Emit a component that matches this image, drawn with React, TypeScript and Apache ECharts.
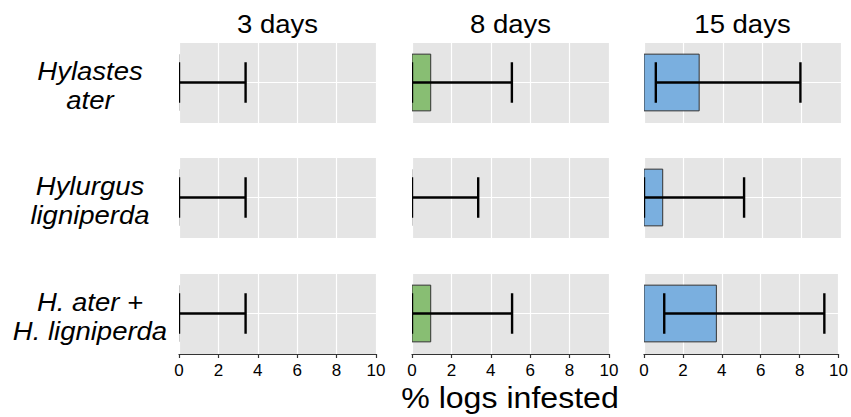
import React, { useEffect, useRef } from "react";
import * as echarts from "echarts";

// Facets: columns are exposure durations, rows are beetle species
const dayLabels = ["3 days", "8 days", "15 days"];
const speciesLabels = ["Hylastes\nater", "Hylurgus\nligniperda", "H. ater +\nH. ligniperda"];

// % logs infested, one row per species, one entry per duration
const meanInfested = [
  [0, 0.95, 2.8],
  [0, 0, 0.95],
  [0, 0.95, 3.72],
];
const lowerCI = [
  [0, 0, 0.6],
  [0, 0, 0],
  [0, 0, 1.04],
];
const upperCI = [
  [3.38, 5.07, 7.94],
  [3.38, 3.36, 5.08],
  [3.38, 5.08, 9.27],
];
const xTicks = [0, 2, 4, 6, 8, 10];

const dayColors = ["#8a8a8a", "#88BE73", "#7AAFDF"];

const FONT = "Liberation Sans, Arial, sans-serif";
const colLeft = [179, 412, 644];
const panelW = 197;
const rowTop = [42, 157, 273];
const panelH = 81;

export default function App() {
  const ref = useRef<HTMLDivElement>(null);

  useEffect(() => {
    if (!ref.current) return;
    const chart = echarts.init(ref.current, undefined, { renderer: "svg" });

    const grids: any[] = [];
    const xAxes: any[] = [];
    const yAxes: any[] = [];
    const series: any[] = [];
    const graphics: any[] = [];

    speciesLabels.forEach((sp, r) => {
      dayLabels.forEach((_d, c) => {
        const idx = r * 3 + c;
        const bottomRow = r === speciesLabels.length - 1;
        grids.push({
          left: colLeft[c],
          top: rowTop[r],
          width: panelW,
          height: panelH,
          show: true,
          backgroundColor: "#E5E5E5",
          borderWidth: 0,
        });
        xAxes.push({
          type: "value",
          gridIndex: idx,
          min: 0,
          max: 10,
          interval: 2,
          axisLine: { show: bottomRow, onZero: false, lineStyle: { color: "#333", width: 1.2 } },
          axisTick: { show: bottomRow, length: 4, lineStyle: { color: "#333", width: 1.2 } },
          axisLabel: {
            show: bottomRow,
            color: "#000",
            fontSize: 17,
            fontFamily: FONT,
            margin: 8,
            customValues: xTicks,
          },
          splitLine: { show: true, lineStyle: { color: "#ffffff", width: 1.2 } },
        });
        yAxes.push({
          type: "value",
          gridIndex: idx,
          min: 0,
          max: 2,
          interval: 1,
          axisLine: { show: false },
          axisTick: { show: false },
          axisLabel: { show: false },
          splitLine: { show: true, lineStyle: { color: "#ffffff", width: 1.2 } },
        });
        series.push({
          type: "custom",
          xAxisIndex: idx,
          yAxisIndex: idx,
          clip: true,
          data: [[meanInfested[r][c], lowerCI[r][c], upperCI[r][c]]],
          renderItem: (_params: any, api: any) => {
            const v = api.value(0);
            const lo = api.value(1);
            const hi = api.value(2);
            const p0 = api.coord([0, 1]);
            const pv = api.coord([v, 1]);
            const pl = api.coord([lo, 1]);
            const ph = api.coord([hi, 1]);
            const unit = api.size([0, 1])[1];
            const barHalf = unit * 0.7;
            const capHalf = unit * 0.5;
            const children: any[] = [];
            if (v > 0) {
              children.push({
                type: "rect",
                shape: { x: p0[0], y: p0[1] - barHalf, width: pv[0] - p0[0], height: barHalf * 2 },
                style: { fill: dayColors[c], stroke: "#333", lineWidth: 1 },
              });
            } else {
              children.push({
                type: "line",
                shape: { x1: p0[0], y1: p0[1] - barHalf, x2: p0[0], y2: p0[1] + barHalf },
                style: { stroke: "rgba(60,60,60,0.45)", lineWidth: 1.2 },
              });
            }
            const errStyle = { stroke: "#000", lineWidth: 2.4 };
            children.push({
              type: "line",
              shape: { x1: pl[0], y1: pl[1], x2: ph[0], y2: ph[1] },
              style: errStyle,
            });
            children.push({
              type: "line",
              shape: { x1: pl[0], y1: pl[1] - capHalf, x2: pl[0], y2: pl[1] + capHalf },
              style: errStyle,
            });
            children.push({
              type: "line",
              shape: { x1: ph[0], y1: ph[1] - capHalf, x2: ph[0], y2: ph[1] + capHalf },
              style: errStyle,
            });
            return { type: "group", children };
          },
        });
      });

      // species label, centred beside its row of panels
      graphics.push({
        type: "text",
        x: 90,
        y: rowTop[r] + panelH / 2 + 3,
        scaleX: 1.1,
        style: {
          text: sp,
          fill: "#000",
          font: `italic 25px ${FONT}`,
          textAlign: "center",
          textVerticalAlign: "middle",
          lineHeight: 29,
        },
      });
    });

    // duration strip titles
    dayLabels.forEach((d, c) => {
      graphics.push({
        type: "text",
        x: colLeft[c] + panelW / 2,
        y: 24,
        scaleX: 1.1,
        style: {
          text: d,
          fill: "#000",
          font: `25px ${FONT}`,
          textAlign: "center",
          textVerticalAlign: "middle",
        },
      });
    });

    // shared x-axis title
    graphics.push({
      type: "text",
      x: (colLeft[0] + colLeft[2] + panelW) / 2,
      y: 398,
      scaleX: 1.07,
      style: {
        text: "% logs infested",
        fill: "#000",
        font: `30px ${FONT}`,
        textAlign: "center",
        textVerticalAlign: "middle",
      },
    });

    chart.setOption({
      animation: false,
      backgroundColor: "#ffffff",
      grid: grids,
      xAxis: xAxes,
      yAxis: yAxes,
      series,
      graphic: graphics,
    });

    return () => chart.dispose();
  }, []);

  return (
    <div
      ref={ref}
      style={{ position: "fixed", left: 0, top: 0, width: 851, height: 417 }}
    />
  );
}
